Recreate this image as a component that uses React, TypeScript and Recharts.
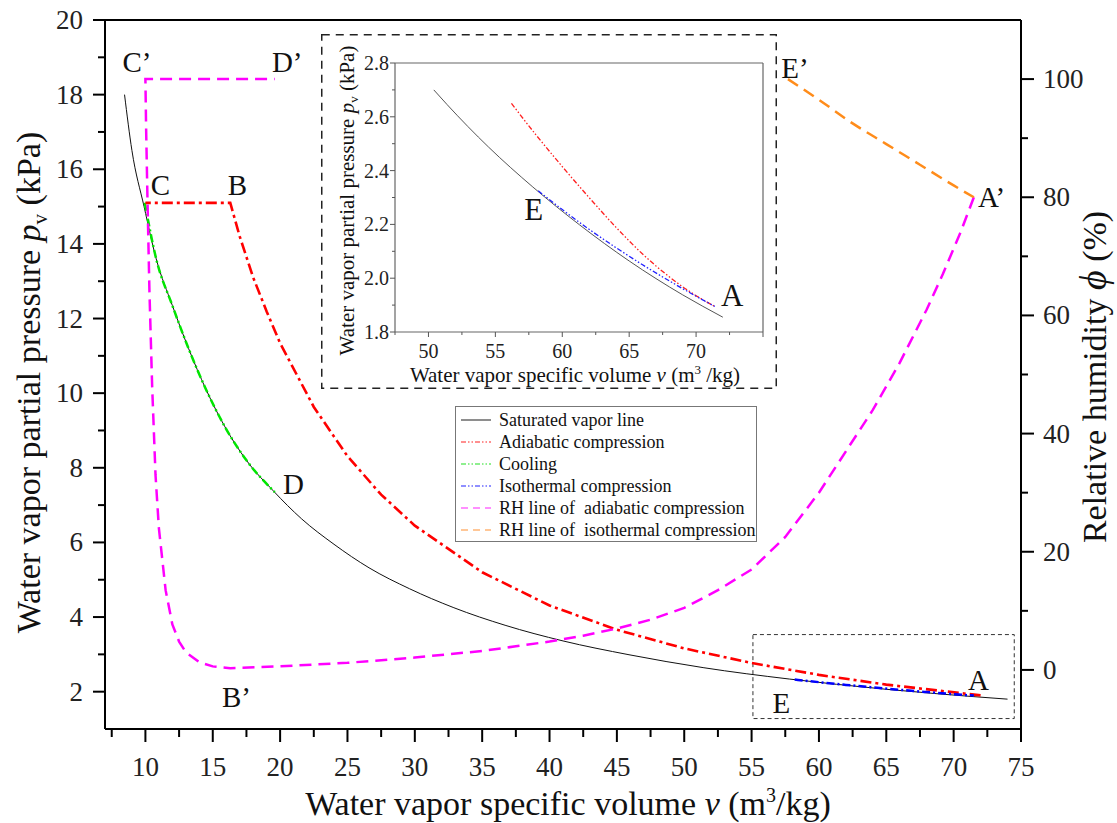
import React from 'react';
import { ComposedChart, Line, XAxis, YAxis, ReferenceArea, ReferenceLine, Scatter } from 'recharts';

const FONT = '"Liberation Serif", "DejaVu Serif", serif';

// ---- Main chart data (v in m3/kg, p in kPa, rh in %) ----
const satV = [8.45, 9.0, 9.9, 10.8, 12.0, 13.2, 14.5, 15.9, 17.5, 19.5, 21.6, 24.0, 26.6, 29.6, 32.9, 36.7, 41.0, 45.9, 51.4, 57.8, 61.3, 65.0, 69.0, 74.0];
const satP = [18.0, 16.5, 15.0, 13.6, 12.35, 11.2, 10.1, 9.1, 8.2, 7.38, 6.63, 5.95, 5.32, 4.76, 4.25, 3.78, 3.36, 2.99, 2.645, 2.339, 2.198, 2.064, 1.938, 1.80];

const adiaV = [72, 65, 60, 55, 50, 45, 40, 35, 30, 27.5, 25, 22.5, 20, 19, 18, 17, 16.3, 10.0];
const adiaP = [1.9, 2.19, 2.45, 2.77, 3.16, 3.66, 4.31, 5.2, 6.45, 7.28, 8.31, 9.63, 11.34, 12.19, 13.1, 14.2, 15.1, 15.1];

const coolV = [9.95, 10.8, 12.0, 13.2, 14.5, 15.9, 17.5, 19.6];
const coolP = [15.1, 13.6, 12.35, 11.2, 10.1, 9.1, 8.2, 7.35];

const isoV = [58.2, 60, 62, 64, 66, 68, 70, 71.5];
const isoP = [2.325, 2.255, 2.182, 2.114, 2.05, 1.99, 1.933, 1.895];

const rhAdiaV = [71.5, 70.5, 69.2, 68, 66, 64, 62, 60, 57.5, 55, 52.5, 50, 47.5, 45, 42.5, 40, 37.5, 35, 30, 25, 20, 16.3, 15, 14, 13, 12.5, 12, 11.5, 11, 10.75, 10.5, 10.3, 10.15, 10.05, 10.0, 19.6];
const rhAdiaRH = [80, 74, 67, 61, 52, 44, 37, 30, 22.5, 17, 13.5, 10.5, 8.5, 7, 5.8, 4.8, 4, 3.2, 2.1, 1.2, 0.6, 0.3, 0.6, 1.3, 3, 4.8, 7.7, 13.5, 24, 33, 48, 64, 80, 92, 100, 100];

const rhIsoV = [57.7, 60, 62.5, 65, 67.5, 70, 71.5];
const rhIsoRH = [100, 96.5, 92.5, 89, 85.5, 82, 80];

const markText = ['C\u2019', 'D\u2019', 'C', 'B', 'D', 'E\u2019', 'A\u2019', 'B\u2019', 'E', 'A'];
const markV = [8.29, 19.39, 10.39, 16.12, 20.21, 57.2, 71.8, 15.68, 56.55, 71.07];
const markP = [18.61, 18.61, 15.31, 15.31, 7.30, 18.45, 14.99, 1.60, 1.44, 2.05];

// zoom box drawn on main chart (data coords)
const boxV = [55.1, 74.5];
const boxP = [1.28, 3.53];

const xTicks = [7.5, 10, 12.5, 15, 17.5, 20, 22.5, 25, 27.5, 30, 32.5, 35, 37.5, 40, 42.5, 45, 47.5, 50, 52.5, 55, 57.5, 60, 62.5, 65, 67.5, 70, 72.5, 75];
const pTicks = [2, 3, 4, 5, 6, 7, 8, 9, 10, 11, 12, 13, 14, 15, 16, 17, 18, 19, 20];
const rhTicks = [0, 10, 20, 30, 40, 50, 60, 70, 80, 90, 100];

// ---- Inset data ----
const inSatV = [50.4, 51.4, 54.5, 57.8, 61.3, 65.0, 69.0, 72.0];
const inSatP = [2.70, 2.645, 2.487, 2.339, 2.198, 2.064, 1.938, 1.855];
const inAdiaV = [56.2, 58, 60, 62, 64, 66, 68, 70, 71.4];
const inAdiaP = [2.65, 2.535, 2.415, 2.30, 2.19, 2.09, 2.005, 1.935, 1.895];
const inIsoV = [58.2, 60, 62, 64, 66, 68, 70, 71.4];
const inIsoP = [2.325, 2.255, 2.182, 2.114, 2.05, 1.99, 1.933, 1.895];
const inMarkText = ['E', 'A'];
const inMarkV = [57.16, 71.86];
const inMarkP = [2.215, 1.895];
const inXTicks = [47.5, 50, 52.5, 55, 57.5, 60, 62.5, 65, 67.5, 70, 72.5, 75];
const inYTicks = [1.8, 1.9, 2.0, 2.1, 2.2, 2.3, 2.4, 2.5, 2.6, 2.7, 2.8];

// ---- Legend ----
const legendLabels = ['Saturated vapor line', 'Adiabatic compression', 'Cooling', 'Isothermal compression', 'RH line of  adiabatic compression', 'RH line of  isothermal compression'];
const legendColors = ['#444444', '#ff2020', '#20e020', '#2020ff', '#ff20ff', '#ff9030'];
const legendDash = ['', '5 2 1.5 2 1.5 2', '5 2 1.5 2 1.5 2', '5 2 1.5 2 1.5 2', '7 5', '7 5'];

const zip = (xs: number[], ys: number[], key: string) => xs.map((v, i) => ({ v, [key]: ys[i] }));
const zipLabel = (xs: number[], ys: number[], t: string[]) => xs.map((v, i) => ({ v, p: ys[i], label: t[i] }));

const isMult = (v: number, m: number) => Math.abs(v / m - Math.round(v / m)) < 1e-6;

const MainXTick = (props: any) => {
  const { x, y, payload } = props;
  const v = payload.value;
  const major = isMult(v, 5);
  return (
    <g>
      <line x1={x} x2={x} y1={y} y2={y + (major ? 13 : 8)} stroke="#000" strokeWidth={2} />
      {major && (
        <text x={x} y={y + 47} textAnchor="middle" fontFamily={FONT} fontSize={27} fill="#222">{v}</text>
      )}
    </g>
  );
};

const MainLeftTick = (props: any) => {
  const { x, y, payload } = props;
  const v = payload.value;
  const major = isMult(v, 2);
  return (
    <g>
      <line x1={x - (major ? 12 : 7)} x2={x} y1={y} y2={y} stroke="#000" strokeWidth={2} />
      {major && (
        <text x={x - 22} y={y + 9} textAnchor="end" fontFamily={FONT} fontSize={27} fill="#222">{v}</text>
      )}
    </g>
  );
};

const MainRightTick = (props: any) => {
  const { x, y, payload } = props;
  const v = payload.value;
  const major = isMult(v, 20);
  return (
    <g>
      <line x1={x} x2={x + (major ? 13 : 7)} y1={y} y2={y} stroke="#000" strokeWidth={2} />
      {major && (
        <text x={x + 22} y={y + 9} textAnchor="start" fontFamily={FONT} fontSize={27} fill="#222">{v}</text>
      )}
    </g>
  );
};

const InXTick = (props: any) => {
  const { x, y, payload } = props;
  const v = payload.value;
  const major = isMult(v, 5);
  return (
    <g>
      <line x1={x} x2={x} y1={y} y2={y + (major ? 5 : 3)} stroke="#555" strokeWidth={1} />
      {major && v < 75 && (
        <text x={x} y={y + 26} textAnchor="middle" fontFamily={FONT} fontSize={20} fill="#222">{v}</text>
      )}
    </g>
  );
};

const InYTick = (props: any) => {
  const { x, y, payload } = props;
  const v = payload.value;
  const major = Math.round(v * 10) % 2 === 0;
  return (
    <g>
      <line x1={x - (major ? 5 : 3)} x2={x} y1={y} y2={y} stroke="#555" strokeWidth={1} />
      {major && (
        <text x={x - 6} y={y + 7} textAnchor="end" fontFamily={FONT} fontSize={20} fill="#222">{v.toFixed(1)}</text>
      )}
    </g>
  );
};

const MarkShape = (size: number) => (props: any) => {
  const { cx, cy, payload } = props;
  return (
    <text x={cx} y={cy} textAnchor="start" fontFamily={FONT} fontSize={size} fill="#111">{payload.label}</text>
  );
};

const LeftTitle = (props: any) => {
  const vb = props.viewBox || { x: 0, y: 20, width: 105, height: 709 };
  const cx = vb.x + 40;
  const cy = vb.y + vb.height / 2 + 8;
  return (
    <text transform={`translate(${cx},${cy}) rotate(-90)`} textAnchor="middle" fontFamily={FONT} fontSize={34} fill="#111">
      Water vapor partial pressure <tspan fontStyle="italic">p</tspan>
      <tspan fontSize={21} dy={7}>v</tspan>
      <tspan dy={-7}> (kPa)</tspan>
    </text>
  );
};

const BottomTitle = (props: any) => {
  const vb = props.viewBox || { x: 105, y: 729, width: 916, height: 94 };
  const cx = vb.x + vb.width / 2 + 5;
  const cy = vb.y + 86;
  return (
    <text x={cx} y={cy} textAnchor="middle" fontFamily={FONT} fontSize={34} fill="#111">
      Water vapor specific volume <tspan fontStyle="italic">v</tspan> (m<tspan fontSize={20} dy={-13}>3</tspan>
      <tspan dy={13}>/kg)</tspan>
    </text>
  );
};

const RightTitle = (props: any) => {
  const vb = props.viewBox || { x: 1021, y: 20, width: 96, height: 709 };
  const cx = vb.x + 85;
  const cy = vb.y + 357;
  return (
    <text transform={`translate(${cx},${cy}) rotate(-90)`} textAnchor="middle" fontFamily={FONT} fontSize={34} fill="#111">
      Relative humidity <tspan fontStyle="italic" fontSize={38}>{'\u03D5'}</tspan>  (%)
    </text>
  );
};

const InLeftTitle = (props: any) => {
  const vb = props.viewBox || { x: 0, y: 29, width: 74, height: 269 };
  const cx = vb.x + 33;
  const cy = vb.y + vb.height / 2 + 3;
  return (
    <text transform={`translate(${cx},${cy}) rotate(-90)`} textAnchor="middle" fontFamily={FONT} fontSize={21} fill="#111">
      Water vapor partial pressure <tspan fontStyle="italic">p</tspan>
      <tspan fontSize={13} dy={4}>v</tspan>
      <tspan dy={-4}> (kPa)</tspan>
    </text>
  );
};

const InBottomTitle = (props: any) => {
  const vb = props.viewBox || { x: 74, y: 298, width: 368, height: 57 };
  const cx = vb.x + vb.width / 2 - 4;
  const cy = vb.y + 50;
  return (
    <text x={cx} y={cy} textAnchor="middle" fontFamily={FONT} fontSize={21} fill="#111">
      Water vapor specific volume <tspan fontStyle="italic">v</tspan> (m<tspan fontSize={13} dy={-8}>3</tspan>
      <tspan dy={8}> /kg)</tspan>
    </text>
  );
};

const Legend = () => (
  <svg width={302} height={137} style={{ position: 'absolute', left: 455, top: 406 }}>
    <rect x={0.5} y={0.5} width={301} height={135} fill="#fff" stroke="#777" strokeWidth={1} />
    {legendLabels.map((t, i) => {
      const y = 14 + i * 22;
      return (
        <g key={t}>
          <line x1={6} x2={36} y1={y} y2={y} stroke={legendColors[i]} strokeWidth={1.2} strokeDasharray={legendDash[i] || undefined} />
          <text x={44} y={y + 6} fontFamily={FONT} fontSize={18} fill="#111" style={{ whiteSpace: 'pre' }}>{t}</text>
        </g>
      );
    })}
  </svg>
);

export default function App() {
  const satData = zip(satV, satP, 'p');
  const adiaData = zip(adiaV, adiaP, 'p');
  const coolData = zip(coolV, coolP, 'p');
  const isoData = zip(isoV, isoP, 'p');
  const rhAdiaData = zip(rhAdiaV, rhAdiaRH, 'rh');
  const rhIsoData = zip(rhIsoV, rhIsoRH, 'rh');
  const marks = zipLabel(markV, markP, markText);

  const inSat = zip(inSatV, inSatP, 'p');
  const inAdia = zip(inAdiaV, inAdiaP, 'p');
  const inIso = zip(inIsoV, inIsoP, 'p');
  const inMarks = zipLabel(inMarkV, inMarkP, inMarkText);

  return (
    <div style={{ position: 'absolute', left: 0, top: 0, width: 1117, height: 823, background: '#fff' }}>
      <ComposedChart width={1117} height={823} margin={{ top: 20, right: 0, bottom: 0, left: 0 }}>
        <XAxis xAxisId="x" type="number" dataKey="v" domain={[7, 75]} allowDataOverflow ticks={xTicks} interval={0}
          tickSize={0} tickMargin={0} tick={<MainXTick />} tickLine={false}
          axisLine={{ stroke: '#000', strokeWidth: 2 }} height={94} label={<BottomTitle />} />
        <YAxis yAxisId="left" type="number" domain={[1, 20]} allowDataOverflow ticks={pTicks} interval={0}
          tickSize={0} tickMargin={0} tick={<MainLeftTick />} tickLine={false}
          axisLine={{ stroke: '#000', strokeWidth: 2 }} width={105} label={<LeftTitle />} />
        <YAxis yAxisId="right" orientation="right" type="number" domain={[-10, 110]} allowDataOverflow ticks={rhTicks} interval={0}
          tickSize={0} tickMargin={0} tick={<MainRightTick />} tickLine={false}
          axisLine={{ stroke: '#000', strokeWidth: 2 }} width={96} label={<RightTitle />} />
        <ReferenceLine xAxisId="x" yAxisId="left" y={20} stroke="#000" strokeWidth={2} />
        <ReferenceArea xAxisId="x" yAxisId="left" x1={boxV[0]} x2={boxV[1]} y1={boxP[0]} y2={boxP[1]}
          fill="none" fillOpacity={0} stroke="#333" strokeWidth={1} strokeDasharray="4 3" />
        <Line xAxisId="x" yAxisId="left" data={satData} dataKey="p" type="monotone" stroke="#111" strokeWidth={1}
          dot={false} isAnimationActive={false} />
        <Line xAxisId="x" yAxisId="left" data={coolData} dataKey="p" type="monotone" stroke="#00e600" strokeWidth={2.5}
          strokeDasharray="8 3 2 3" dot={false} isAnimationActive={false} />
        <Line xAxisId="x" yAxisId="left" data={adiaData} dataKey="p" type="linear" stroke="#ff0000" strokeWidth={2.6}
          strokeDasharray="11 4 3 4" dot={false} isAnimationActive={false} />
        <Line xAxisId="x" yAxisId="left" data={isoData} dataKey="p" type="monotone" stroke="#0000ff" strokeWidth={2.5}
          strokeDasharray="8 3 2 3" dot={false} isAnimationActive={false} />
        <Line xAxisId="x" yAxisId="right" data={rhAdiaData} dataKey="rh" type="linear" stroke="#ff00ff" strokeWidth={2.5}
          strokeDasharray="12 7" dot={false} isAnimationActive={false} />
        <Line xAxisId="x" yAxisId="right" data={rhIsoData} dataKey="rh" type="monotone" stroke="#ff8c1a" strokeWidth={2.5}
          strokeDasharray="12 7" dot={false} isAnimationActive={false} />
        <Scatter xAxisId="x" yAxisId="left" data={marks} dataKey="p" shape={MarkShape(29)} isAnimationActive={false} />
      </ComposedChart>

      <div style={{ position: 'absolute', left: 321, top: 34, width: 456, height: 355, background: '#fff' }}>
        <svg width={456} height={355} style={{ position: 'absolute', left: 0, top: 0 }}>
          <rect x={0.75} y={0.75} width={454.5} height={353.5} fill="#fff" stroke="#222" strokeWidth={1.5} strokeDasharray="8 6" />
        </svg>
        <div style={{ position: 'absolute', left: 0, top: 0 }}>
          <ComposedChart width={456} height={355} margin={{ top: 29, right: 14, bottom: 0, left: 0 }}>
            <XAxis xAxisId="x" type="number" dataKey="v" domain={[47.5, 75]} allowDataOverflow ticks={inXTicks} interval={0}
              tickSize={0} tickMargin={0} tick={<InXTick />} tickLine={false}
              axisLine={{ stroke: '#666', strokeWidth: 1.2 }} height={57} label={<InBottomTitle />} />
            <YAxis yAxisId="left" type="number" domain={[1.8, 2.8]} allowDataOverflow ticks={inYTicks} interval={0}
              tickSize={0} tickMargin={0} tick={<InYTick />} tickLine={false}
              axisLine={{ stroke: '#666', strokeWidth: 1.2 }} width={74} label={<InLeftTitle />} />
            <ReferenceLine xAxisId="x" yAxisId="left" y={2.8} stroke="#666" strokeWidth={1.2} />
            <ReferenceLine xAxisId="x" yAxisId="left" x={75} stroke="#666" strokeWidth={1.2} />
            <Line xAxisId="x" yAxisId="left" data={inSat} dataKey="p" type="monotone" stroke="#555" strokeWidth={1}
              dot={false} isAnimationActive={false} />
            <Line xAxisId="x" yAxisId="left" data={inAdia} dataKey="p" type="monotone" stroke="#ff2020" strokeWidth={1.3}
              strokeDasharray="5 2 1.5 2 1.5 2" dot={false} isAnimationActive={false} />
            <Line xAxisId="x" yAxisId="left" data={inIso} dataKey="p" type="monotone" stroke="#2020ff" strokeWidth={1.3}
              strokeDasharray="5 2 1.5 2 1.5 2" dot={false} isAnimationActive={false} />
            <Scatter xAxisId="x" yAxisId="left" data={inMarks} dataKey="p" shape={MarkShape(31)} isAnimationActive={false} />
          </ComposedChart>
        </div>
      </div>

      <Legend />
    </div>
  );
}
